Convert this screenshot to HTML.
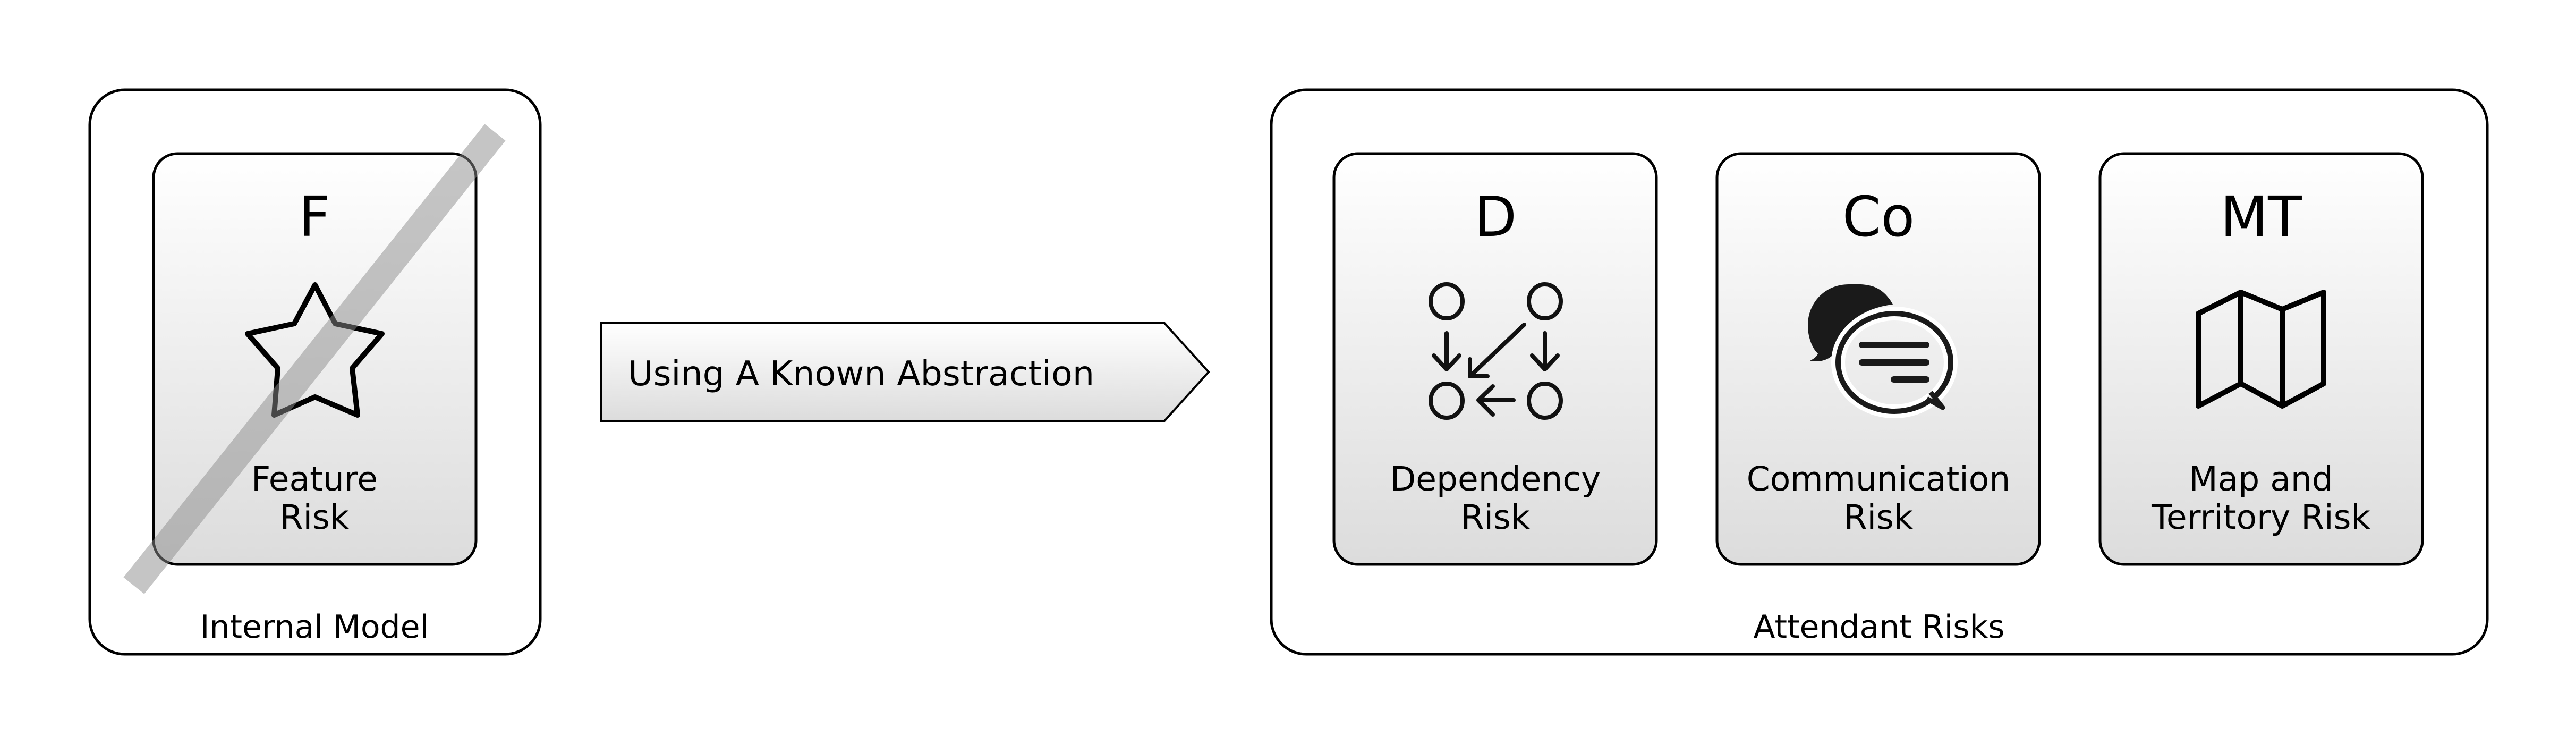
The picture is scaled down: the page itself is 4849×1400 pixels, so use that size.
<!DOCTYPE html>
<html><head><meta charset="utf-8"><style>
html,body{margin:0;padding:0;background:#fff;}
svg{display:block;}
text{font-family:"DejaVu Sans","Liberation Sans",sans-serif;fill:#000;}
</style></head><body>
<svg width="4849" height="1400" viewBox="0 0 4849 1400" xmlns="http://www.w3.org/2000/svg">
<defs>
<linearGradient id="g" x1="0" y1="0" x2="0" y2="1">
<stop offset="0" stop-color="#ffffff"/><stop offset="1" stop-color="#dcdcdc"/>
</linearGradient>
</defs>
<!-- outer boxes -->
<rect x="169" y="169" width="848" height="1062" rx="66" fill="#fff" stroke="#000" stroke-width="5"/>
<rect x="2393" y="169" width="2289" height="1062" rx="66" fill="#fff" stroke="#000" stroke-width="5"/>
<!-- inner boxes -->
<rect x="289" y="289" width="607" height="773" rx="45" fill="url(#g)" stroke="#000" stroke-width="5"/>
<rect x="2511" y="289" width="607" height="773" rx="45" fill="url(#g)" stroke="#000" stroke-width="5"/>
<rect x="3232" y="289" width="607" height="773" rx="45" fill="url(#g)" stroke="#000" stroke-width="5"/>
<rect x="3953" y="289" width="607" height="773" rx="45" fill="url(#g)" stroke="#000" stroke-width="5"/>
<!-- arrow -->
<polygon points="1132,608 2192,608 2275,700 2192,792 1132,792" fill="url(#g)" stroke="#000" stroke-width="4"/>
<text x="1182" y="725" font-size="64" textLength="878" lengthAdjust="spacingAndGlyphs">Using A Known Abstraction</text>
<!-- letters -->
<text x="592" y="444" font-size="104" text-anchor="middle">F</text>
<text x="2815" y="444" font-size="104" text-anchor="middle">D</text>
<text x="3536" y="444" font-size="104" text-anchor="middle">Co</text>
<text x="4256" y="444" font-size="104" text-anchor="middle">MT</text>
<!-- labels -->
<g font-size="63" text-anchor="middle">
<text x="592" y="923">Feature</text><text x="592" y="995">Risk</text>
<text x="2815" y="923">Dependency</text><text x="2815" y="995">Risk</text>
<text x="3536" y="923">Communication</text><text x="3536" y="995">Risk</text>
<text x="4256" y="923">Map and</text><text x="4256" y="995">Territory Risk</text>
</g>
<text x="592" y="1200" font-size="60" text-anchor="middle">Internal Model</text>
<text x="3537" y="1200" font-size="60" text-anchor="middle">Attendant Risks</text>
<!-- star -->
<polygon points="593,536 631,609 719,628 663,693 673,781 593,747 516,781 523,693 466,628 554,609" fill="none" stroke="#000" stroke-width="10" stroke-linejoin="round"/>
<!-- slash -->
<line x1="932" y1="249" x2="252" y2="1102" stroke="rgba(140,140,140,0.5)" stroke-width="50"/>
<!-- dependency icon -->
<g fill="none" stroke="#111" stroke-width="8" stroke-linecap="round" stroke-linejoin="round">
<ellipse cx="2723" cy="567" rx="30" ry="32"/><ellipse cx="2908" cy="567" rx="30" ry="32"/>
<ellipse cx="2723" cy="754" rx="30" ry="32"/><ellipse cx="2908" cy="754" rx="30" ry="32"/>
<path d="M2723,627 V693 M2699,669 L2723,695 L2747,669"/>
<path d="M2908,627 V693 M2884,669 L2908,695 L2932,669"/>
<path d="M2869,611 L2767,708 M2767,676 V708 H2800"/>
<path d="M2849,753 H2783 M2810,727 L2783,753 L2810,780"/>
</g>
<!-- chat icon -->
<path d="M3563,573 C3540,530 3505,535 3480,535 C3435,535 3403,570 3403,612 C3403,640 3415,660 3422,665 C3420,672 3412,676 3407,679 C3425,682 3438,678 3448,670 C3455,620 3500,580 3563,573 Z" fill="#1a1a1a"/>
<ellipse cx="3566" cy="682" rx="106" ry="92" fill="none" stroke="#fff" stroke-width="26"/>
<ellipse cx="3566" cy="682" rx="106" ry="92" fill="none" stroke="#1a1a1a" stroke-width="10"/>
<path d="M3634,738 L3657,767 L3627,750" fill="#eee" stroke="#1a1a1a" stroke-width="9" stroke-linejoin="round"/>
<g stroke="#1a1a1a" stroke-width="12" stroke-linecap="round">
<line x1="3505" y1="649" x2="3626" y2="649"/><line x1="3505" y1="682" x2="3626" y2="682"/><line x1="3565" y1="714" x2="3626" y2="714"/>
</g>
<!-- map icon -->
<path d="M4138,590 L4218,550 L4296,582 L4374,550 L4374,722 L4296,764 L4218,722 L4138,764 Z M4218,550 V722 M4296,582 V764" fill="none" stroke="#000" stroke-width="10" stroke-linejoin="round"/>
</svg>
</body></html>
